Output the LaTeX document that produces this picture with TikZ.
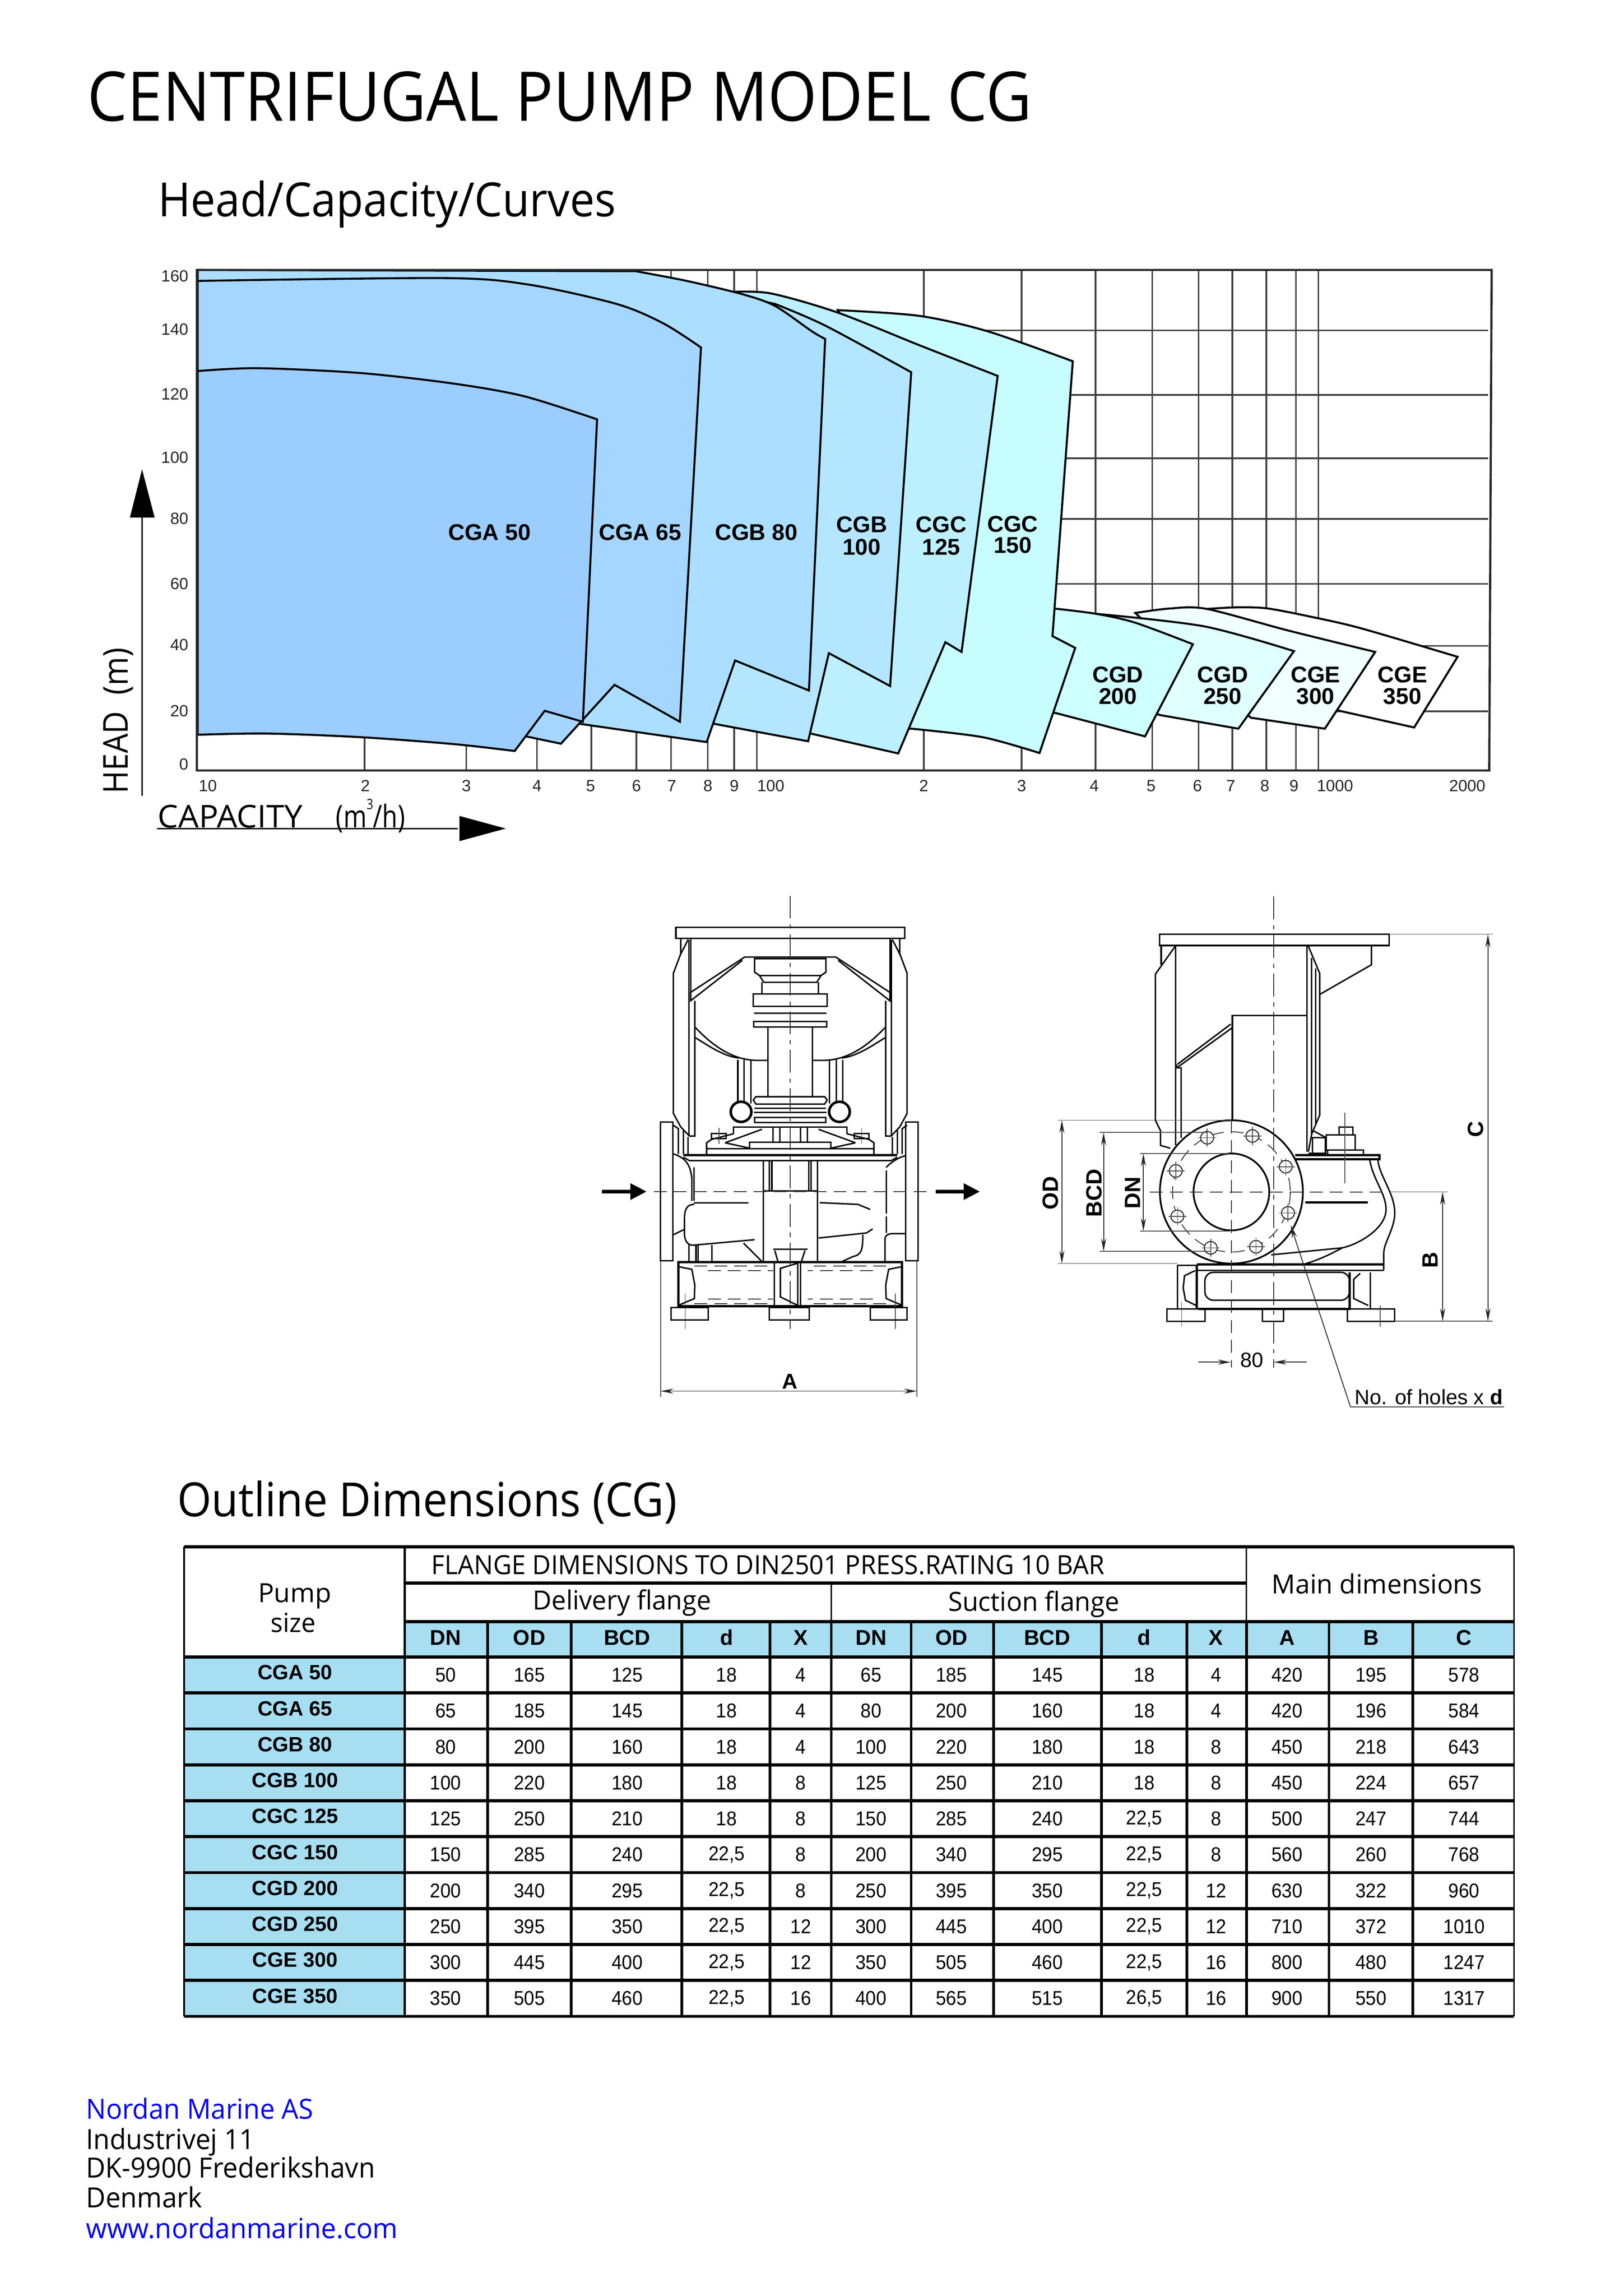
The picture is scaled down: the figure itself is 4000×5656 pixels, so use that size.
\documentclass[tikz,border=0pt]{standalone}
\usepackage{fontspec}
\usepackage{graphicx}
\setmainfont{Liberation Sans}
\newfontfamily\myr{Open Sans}
\newfontfamily\narr[FakeStretch=0.93]{Liberation Sans}
\usetikzlibrary{arrows.meta,shapes.geometric}
\newdimen\pxu \pxu=0.01cm
\newcommand\wfit[2]{\resizebox{#1\pxu}{\height}{#2}}
\definecolor{cA}{RGB}{156,205,255}
\definecolor{cB}{RGB}{165,214,255}
\definecolor{cC}{RGB}{172,222,255}
\definecolor{cD}{RGB}{180,230,255}
\definecolor{cE}{RGB}{188,240,255}
\definecolor{cF}{RGB}{200,253,255}
\definecolor{cG}{RGB}{205,255,255}
\definecolor{cH}{RGB}{224,255,255}
\definecolor{cI}{RGB}{240,255,255}
\definecolor{tblue}{RGB}{167,222,242}
\tikzset{
  x=0.01cm,y=-0.01cm,
  txt/.style={inner sep=0,outer sep=0,anchor=base west,text=black},
  tt/.style={inner sep=0,outer sep=0,text=black},
  grid line/.style={line width=1.1pt,black!75},
  curve/.style={line width=1.4pt,black,line join=miter},
  ln/.style={line width=1pt,black},
  hv/.style={line width=1.6pt,black},
  thn/.style={line width=0.5pt,black!70},
  cl/.style={line width=0.6pt,black!80,dash pattern=on 16pt off 4pt on 3pt off 4pt},
  dsh/.style={line width=0.6pt,black!80,dash pattern=on 9pt off 5pt},
  dimarrow/.style={line width=0.6pt,black!85,{Stealth[length=9pt,width=3.5pt]}-{Stealth[length=9pt,width=3.5pt]}},
  onearrow/.style={line width=0.6pt,black!85,-{Stealth[length=9pt,width=3.5pt]}},
  tickl/.style={tt,font=\fontsize{11.4}{12}\selectfont,text=black!85},
  curvelab/.style={tt,font=\bfseries\fontsize{16}{17}\selectfont},
  tbl h/.style={line width=2.2pt,black},
  tbl v/.style={line width=1.8pt,black},
  tbl t/.style={line width=0.9pt,black},
  num/.style={tt,font=\narr\fontsize{14}{15}\selectfont},
  hdr/.style={tt,font=\bfseries\fontsize{15}{16}\selectfont},
  lab/.style={tt,font=\bfseries\fontsize{14.5}{15}\selectfont},
  dlab/.style={tt,rotate=90,font=\bfseries\fontsize{15.5}{16}\selectfont},
}
\newcommand\halfpump{%
  \draw[ln] (375,135)--(375,180)--(345,238)--(345,655)--(375,695)--(410,722)--(432,722)--(432,320);
  \draw[ln] (405,138)--(372,185);
  \draw[ln] (415,135)--(415,320);
  \draw[ln] (408,140)--(408,722);
  \draw[ln] (820,190)--(635,190)--(415,295)--(415,320)--(625,200);
  \draw[ln] (435,400) .. controls (500,450) and (580,495) .. (680,497) -- (730,497);
  \draw[ln] (435,430) .. controls (490,455) and (550,485) .. (610,490);
  \draw[ln] (820,195)--(675,195)--(675,235)--(695,245)--(820,245);
  \draw[ln] (695,245)--(712,265)--(820,265);
  \draw[ln] (705,265)--(705,298);
  \draw[ln] (820,300)--(670,300)--(670,337)--(820,337);
  \draw[ln] (672,357)--(820,357);
  \draw[ln] (820,382)--(672,382)--(672,398)--(820,398);
  \draw[ln] (730,398)--(730,605);
  \draw[ln] (607,495)--(607,625);
  \draw[ln] (632,495)--(632,620);
  \draw[ln] (660,495)--(660,625);
  \draw[line width=1.8pt,black,fill=white] (620,650) ellipse [x radius=42,y radius=30];
  \draw[ln] (820,605)--(680,605)--(670,615)--(680,627)--(820,627);
  \draw[ln] (820,640)--(675,640);
  \draw[ln] (820,652)--(672,652);
  \draw[ln] (820,667)--(675,667)--(675,682)--(820,682);
  \draw[ln] (820,695)--(590,695)--(590,715);
  \draw[ln] (480,775)--(480,742)--(500,732)--(590,715);
  \draw[ln] (555,742)--(705,702);
  \draw[ln] (555,742)--(655,758);
  \draw[ln] (820,740)--(655,740)--(655,760);
  \draw[ln] (820,760)--(480,760);
  \draw[hv] (820,778)--(385,778);
  \draw[ln] (820,795)--(410,795)--(385,785);
  \draw[ln] (500,715)--(560,715)--(560,730)--(500,730)--cycle;
  \draw[thn] (530,698)--(530,745);
  \draw[ln] (750,695)--(750,738);
  \draw[ln] (778,695)--(778,738);
  \draw[ln] (345,690)--(365,700)--(365,775);
  \draw[ln] (385,705)--(385,775);
  \draw[ln] (405,725)--(405,775);
  \draw[ln] (710,795)--(710,1095);
  \draw[ln] (735,795)--(735,885);
  \draw[ln] (745,795)--(745,885);
  \draw[ln] (710,885)--(820,885);
  \draw[hv] (820,1097)--(365,1097)--(365,1228)--(820,1228);
  \draw[ln] (365,1110)--(420,1118)--(432,1165)--(430,1205)--(365,1225);
  \draw[dsh] (430,1108)--(750,1108);
  \draw[dsh] (485,1122)--(750,1122);
  \draw[dsh] (430,1220)--(750,1220);
  \draw[dsh] (485,1207)--(750,1207);
  \draw[thn] (393,1190)--(393,1295);
}
\begin{document}
\begin{tikzpicture}
\useasboundingbox (0,0) rectangle (4000,5656);
\fill[white] (0,0) rectangle (4000,5656);
\node[txt,font=\myr\fontsize{48}{50}\selectfont] (title) at (216,298) {\wfit{2326}{CENTRIFUGAL PUMP MODEL CG}};
\node[txt,font=\myr\fontsize{33}{36}\selectfont] (head1) at (390,533) {\wfit{1127}{Head/Capacity/Curves}};
\node[txt,font=\myr\fontsize{33}{36}\selectfont] (head2) at (437,3736) {\wfit{1231}{Outline Dimensions (CG)}};
\foreach \gy in {814,973,1129,1278,1438,1591,1752} \draw[grid line] (485,\gy)--(3666,\gy);
\foreach \gx in {898,1149,1323,1457,1568,1653,1744,1809,1865,2276,2517,2699,2839,2953,3036,3120,3193,3248} \draw[grid line] (\gx,665)--(\gx,1898);
\draw[curve,fill=white] plot[smooth,tension=.5] coordinates {(2973,1500)(3051,1496)(3124,1499)(3233,1520)(3354,1548)(3591,1618)} -- (3484,1792) -- (3300,1751) -- (3200,1700) -- cycle;
\draw[curve,fill=cI] plot[smooth,tension=.5] coordinates {(2797,1510)(2882,1499)(2973,1500)(3173,1553)(3388,1606)} -- (3264,1795) -- (3082,1768) -- (3000,1700) -- cycle;
\draw[curve,fill=cH] plot[smooth,tension=.5] coordinates {(2700,1512)(2967,1543)(3188,1604)} -- (3051,1795) -- (2855,1761) -- (2800,1700) -- cycle;
\draw[curve,fill=cG] plot[smooth,tension=.5] coordinates {(2597,1499)(2700,1512)(2797,1534)(2939,1587)} -- (2821,1814) -- (2603,1757) -- (2560,1750) -- (2560,1490) -- cycle;
\draw[curve,fill=cF] plot[smooth,tension=.5] coordinates {(2064,764)(2264,778)(2433,816)(2643,890)} -- (2593,1567) -- (2649,1596) -- (2561,1855) -- plot[smooth,tension=.5] coordinates {(2561,1855)(2421,1816)(2245,1795)} -- (2220,1795) -- (2200,1000) -- cycle;
\draw[curve,fill=cE] plot[smooth,tension=.5] coordinates {(1807,719)(1900,723)(2064,770)(2264,850)(2458,926)} -- (2369,1606) -- (2329,1582) -- (2213,1856) -- (1997,1807) -- (1900,1700) -- cycle;
\draw[curve,fill=cD] plot[smooth,tension=.5] coordinates {(1910,749)(2033,802)(2245,917)} -- (2193,1690) -- (2042,1609) -- (1991,1826) -- (1759,1783) -- (1700,1700) -- (1700,700) -- cycle;
\draw[curve,fill=cC] (487,665) -- plot[smooth,tension=.5] coordinates {(1566,668)(1692,692)(1830,725)(1910,754)(2000,816)(2033,835)} -- (1993,1701) -- (1811,1627) -- (1741,1828) -- (1428,1783) -- (1300,1770) -- (487,1700) -- cycle;
\draw[curve,fill=cB] plot[smooth,tension=.5] coordinates {(487,692)(1095,685)(1302,701)(1520,749)(1635,797)(1727,856)} -- (1675,1778) -- (1514,1687) -- (1382,1832) -- (1296,1814) -- (1233,1807) -- (487,1700) -- cycle;
\draw[curve,fill=cA] plot[smooth,tension=.5] coordinates {(487,914)(636,907)(889,919)(1118,945)(1291,976)(1471,1033)} -- (1436,1778) -- (1342,1751) -- (1268,1850) -- plot[smooth,tension=.5] coordinates {(1268,1850)(1118,1833)(889,1816)(659,1807)(487,1810)} -- cycle;
\draw[line width=1.5pt,black!85] (485,665) -- (3675,665) -- (3669,1898) -- (485,1898) -- cycle;
\node[curvelab] (l1) at (1206,1312) {CGA 50};
\node[curvelab] (l2) at (1577,1312) {CGA 65};
\node[curvelab] (l3) at (1863,1312) {CGB 80};
\node[curvelab,align=center] (l4) at (2123,1320) {CGB\\[-1pt]100};
\node[curvelab,align=center] (l5) at (2319,1320) {CGC\\[-1pt]125};
\node[curvelab,align=center] (l6) at (2495,1317) {CGC\\[-2pt]150};
\node[curvelab,align=center] (l7) at (2754,1689) {CGD\\[-2pt]200};
\node[curvelab,align=center] (l8) at (3012,1689) {CGD\\[-2pt]250};
\node[curvelab,align=center] (l9) at (3241,1689) {CGE\\[-2pt]300};
\node[curvelab,align=center] (l10) at (3455,1689) {CGE\\[-2pt]350};
\foreach \tv/\ty [count=\ti] in {160/680,140/811,120/971,100/1127,80/1277,60/1438,40/1589,20/1751,0/1883}
  \node[tickl,anchor=east] (yt\ti) at (464,\ty) {\tv};
\foreach \tv/\tx [count=\ti] in {10/512,2/900,3/1149,4/1323,5/1455,6/1568,7/1655,8/1744,9/1809,100/1899,2/2276,3/2517,4/2696,5/2836,6/2950,7/3032,8/3116,9/3188,1000/3289,2000/3615}
  \node[tickl] (xt\ti) at (\tx,1936) {\tv};
\coordinate (ay0) at (350,1960); \coordinate (ay1) at (350,1275);
\draw[line width=0.8pt] (ay0)--(ay1);
\fill[black] (350,1156)--(381,1275)--(320,1275)--cycle;
\coordinate (ax0) at (387,2041); \coordinate (ax1) at (1128,2041);
\draw[line width=0.8pt] (ax0)--(ax1);
\fill[black] (1246,2041)--(1132,2010)--(1132,2072)--cycle;
\node[txt,rotate=90,font=\myr\fontsize{24}{26}\selectfont] (headax) at (315,1955) {\wfit{359}{HEAD\ \ (m)}};
\node[txt,font=\myr\fontsize{22}{24}\selectfont] (capax) at (389,2039) {\wfit{356}{CAPACITY}};
\node[txt,font=\myr\fontsize{22}{24}\selectfont] (capun) at (828,2039) {\wfit{170}{(m\raisebox{1.1ex}{\fontsize{10}{10}\selectfont 3}/h)}};

\begin{scope}[shift={(1450,2200)},xscale=.606,yscale=.829]
  \halfpump
  \begin{scope}[shift={(1640,0)},xscale=-1]
    \halfpump
  \end{scope}
  \draw[ln] (355,102) rectangle (1285,135);
  \draw[ln] (293,680) rectangle (343,1092);
  \draw[ln] (1290,680) rectangle (1340,1092);
  \draw[ln] (345,775) .. controls (385,785) and (415,800) .. (420,850) -- (420,915);
  \draw[ln] (428,815)--(428,915);
  \draw[ln] (428,920)--(650,920);
  \draw[ln] (430,925) .. controls (395,925) and (390,945) .. (390,970) -- (390,1015) .. controls (392,1040) and (410,1048) .. (430,1046) -- (675,1030);
  \draw[ln] (345,1015)--(388,1000);
  \draw[ln] (630,1040)--(705,1095);
  \draw[ln] (408,1045)--(408,1095);
  \draw[ln] (437,1047)--(437,1095);
  \draw[ln] (445,1047)--(445,1095);
  \draw[ln] (502,1045)--(502,1095);
  \draw[ln] (1290,780) .. controls (1260,785) and (1230,800) .. (1210,815);
  \draw[ln,dash pattern=on 30pt off 2pt] (1210,825)--(1210,1010);
  \draw[ln] (940,920)--(1095,925)--(1145,940);
  \draw[ln] (935,1025)--(1130,1010)--(1155,998);
  \draw[ln] (1115,1015) .. controls (1115,1060) and (1110,1075) .. (1075,1080) -- (1030,1095);
  \draw[ln] (1205,1095)--(1205,1030) .. controls (1205,1015) and (1220,1012) .. (1240,1012) -- (1290,1012);
  \draw[ln] (755,1095)--(755,1228);
  \draw[ln] (850,1100)--(780,1115)--(780,1200)--(850,1225);
  \draw[ln] (850,1100)--(850,1228);
  \draw[ln] (862,1100)--(862,1228);
  \draw[ln] (750,1058)--(890,1058);
  \draw[ln] (757,1062)--(770,1095);
  \draw[ln] (880,1062)--(865,1095);
  \draw[ln] (335,1232) rectangle (487,1268);
  \draw[ln] (735,1232) rectangle (898,1268);
  \draw[ln] (1145,1232) rectangle (1295,1268);
  \draw[cl] (820,8)--(820,1295);
  \draw[dsh] (265,887)--(1390,887);
  \draw[line width=2.6pt] (55,887)--(175,887);
  \fill[black] (235,887)--(170,862)--(170,912)--cycle;
  \draw[line width=2.6pt] (1412,887)--(1530,887);
  \fill[black] (1590,887)--(1525,862)--(1525,912)--cycle;
  \draw[thn] (293,1095)--(293,1497);
  \draw[thn] (1335,1095)--(1335,1497);
  \coordinate (adl) at (293,1480); \coordinate (adr) at (1335,1480);
  \draw[dimarrow] (adl)--(adr);
  \node[tt,font=\bfseries\fontsize{15}{16}\selectfont] (dimA) at (818,1451) {A};
\end{scope}

\begin{scope}[shift={(2550,2200)},xscale=.797,yscale=.861]
  \draw[ln] (385,118) rectangle (1095,150);
  \draw[ln] (390,150)--(390,205);
  \draw[ln] (435,150)--(372,232)--(372,650)--(388,680)--(388,722)--(418,730);
  \draw[ln] (435,150)--(435,722);
  \draw[ln] (440,490)--(605,375);
  \draw[ln] (438,500)--(610,385);
  \draw[ln] (438,490)--(438,500)--(452,500)--(452,700);
  \draw[ln] (840,350)--(610,350)--(610,650);
  \draw[ln] (840,150)--(840,740);
  \draw[ln] (845,152)--(880,230)--(880,635)--(855,690)--(845,740);
  \draw[ln] (855,185)--(855,690);
  \draw[ln] (868,215)--(868,660);
  \draw[ln] (880,290)--(1040,205)--(1040,150);
  \draw[hv] (805,750)--(1065,750)--(1065,762)--(800,762);
  \draw[ln] (1035,765) .. controls (1045,820) and (1085,860) .. (1085,905) .. controls (1085,960) and (1000,1005) .. (950,1015) -- (730,1035);
  \draw[ln] (1060,765) .. controls (1065,810) and (1112,860) .. (1112,915) .. controls (1112,960) and (1078,1000) .. (1078,1030) -- (1078,1078);
  \draw[ln] (950,1015) .. controls (900,1040) and (860,1055) .. (830,1062);
  \draw[hv] (835,885)--(1028,885);
  \draw[ln] (940,670) rectangle (982,692);
  \draw[ln] (900,692) rectangle (990,735);
  \draw[ln] (905,735) rectangle (1015,748);
  \draw[ln] (860,680)--(900,700);
  \draw[ln] (845,745)--(900,745);
  \draw[ln] (858,700) rectangle (898,745);
  \draw[thn] (958,628)--(958,830);
  \draw[hv] (500,1063)--(1078,1063);
  \draw[ln] (500,1080)--(1078,1080);
  \draw[ln] (440,1065)--(500,1065);
  \draw[ln] (440,1065)--(440,1190);
  \draw[hv] (500,1065)--(500,1190);
  \draw[ln] (495,1080)--(462,1095)--(458,1130)--(465,1165)--(498,1180);
  \draw[ln,rounded corners=6pt] (525,1085) rectangle (972,1165);
  \draw[hv] (505,1190)--(975,1190);
  \draw[hv] (972,1085)--(972,1190);
  \draw[ln] (1037,1085)--(1037,1190);
  \draw[ln] (1005,1088)--(985,1105)--(985,1160)--(1030,1180);
  \draw[ln] (408,1190) rectangle (525,1225);
  \draw[ln] (703,1190) rectangle (768,1225);
  \draw[ln] (965,1190) rectangle (1112,1225);
  \draw[line width=1.2pt,black,fill=white] (607,855) ellipse [x radius=221,y radius=205];
  \draw[line width=1.2pt,black,fill=white] (607,855) ellipse [x radius=117,y radius=110];
  \draw[dsh] (607,855) ellipse [x radius=182,y radius=172];
  \foreach \hx/\hy in {532/700,672/695,775/783,782/915,683/1012,543/1015,440/925,435/795}{
    \draw[line width=0.6pt,black,fill=white] (\hx,\hy) ellipse [x radius=20,y radius=18];
    \draw[thn] ({\hx-28},\hy)--({\hx+28},\hy);
    \draw[thn] (\hx,{\hy-26})--(\hx,{\hy+26});
  }
  \draw[cl] (738,10)--(738,1358);
  \draw[dsh] (607,650)--(607,1358);
  \draw[dsh] (355,855)--(1100,855);
  \draw[thn] (453,1170)--(453,1240);
  \draw[thn] (1067,1180)--(1067,1240);
  \draw[thn] (70,650)--(607,650);
  \draw[thn] (70,1060)--(440,1060);
  \draw[dimarrow] (83,650)--(83,1060);
  \node[dlab] (dOD) at (48,858) {OD};
  \draw[thn] (200,685)--(530,685);
  \draw[thn] (200,1025)--(540,1025);
  \draw[dimarrow] (212,685)--(212,1025);
  \node[dlab] (dBCD) at (182,858) {BCD};
  \draw[thn] (325,745)--(600,745);
  \draw[thn] (325,967)--(600,967);
  \draw[dimarrow] (335,745)--(335,967);
  \node[dlab] (dDN) at (302,858) {DN};
  \draw[thn] (1095,118)--(1415,118);
  \draw[thn] (1112,1225)--(1415,1225);
  \draw[dimarrow] (1400,118)--(1400,1225);
  \node[dlab] (dC) at (1362,675) {C};
  \draw[thn] (1100,855)--(1275,855);
  \draw[dimarrow] (1260,855)--(1260,1225);
  \node[dlab] (dB) at (1222,1050) {B};
  \draw[onearrow] (505,1342)--(605,1342);
  \draw[onearrow] (840,1342)--(738,1342);
  \node[tt,font=\fontsize{14.6}{16}\selectfont] (d80) at (670,1336) {80};
  \coordinate (leadA) at (790,950); \coordinate (leadB) at (975,1470); \coordinate (leadC) at (1450,1470);
  \draw[line width=0.6pt,black!85,{Stealth[length=9pt,width=3.5pt]}-] (leadA)--(leadB)--(leadC);
  \node[tt,font=\fontsize{14.6}{16}\selectfont] (holes) at (1217,1442) {No. of holes x \textbf{d}};
\end{scope}

\fill[tblue] (997,3995) rectangle (3730,4082);
\fill[tblue] (454,4082) rectangle (997,4967);
\draw[tbl h] (454,3810)--(3730,3810);
\draw[tbl h] (997,3900)--(3071,3900);
\draw[tbl h] (997,3995)--(3730,3995);
\foreach \ri in {0,...,10} \draw[tbl h] (454,{4082+88.5*\ri})--(3730,{4082+88.5*\ri});
\draw[line width=1.2pt] (454,3810)--(454,4967);
\draw[line width=1.2pt] (3730,3810)--(3730,4967);
\draw[tbl v] (997,3810)--(997,4967);
\draw[tbl t] (2048,3900)--(2048,3995);
\draw[tbl t] (3071,3810)--(3071,3995);
\foreach \cx in {1201,1407,1680,1897,2048,2245,2448,2714,2924,3071,3274,3481} \draw[tbl v] (\cx,3995)--(\cx,4967);
\node[txt,font=\myr\fontsize{18.5}{20}\selectfont] (th1) at (1063,3878) {\wfit{1658}{FLANGE DIMENSIONS TO DIN2501 PRESS.RATING 10 BAR}};
\node[txt,font=\myr\fontsize{18.5}{20}\selectfont] (th2) at (1313,3965) {\wfit{439}{Delivery flange}};
\node[txt,font=\myr\fontsize{18.5}{20}\selectfont] (th3) at (2336,3969) {\wfit{422}{Suction flange}};
\node[txt,font=\myr\fontsize{18.5}{20}\selectfont] (th4) at (3133,3926) {\wfit{518}{Main dimensions}};
\node[txt,font=\myr\fontsize{18.5}{20}\selectfont] (th5) at (636,3947) {\wfit{180}{Pump}};
\node[txt,font=\myr\fontsize{18.5}{20}\selectfont] (th6) at (667,4021) {\wfit{111}{size}};
\foreach \hv/\hx [count=\hi] in {DN/1098,OD/1304,BCD/1545,d/1790,X/1973,DN/2146,OD/2344,BCD/2580,d/2819,X/2996,A/3171,B/3378,C/3607}
  \node[hdr] (hd\hi) at (\hx,4034) {\hv};
\foreach \lbl/\vals [count=\r] in {
  CGA 50/{50,165,125,18,4,65,185,145,18,4,420,195,578},
  CGA 65/{65,185,145,18,4,80,200,160,18,4,420,196,584},
  CGB 80/{80,200,160,18,4,100,220,180,18,8,450,218,643},
  CGB 100/{100,220,180,18,8,125,250,210,18,8,450,224,657},
  CGC 125/{125,250,210,18,8,150,285,240,{22,5},8,500,247,744},
  CGC 150/{150,285,240,{22,5},8,200,340,295,{22,5},8,560,260,768},
  CGD 200/{200,340,295,{22,5},8,250,395,350,{22,5},12,630,322,960},
  CGD 250/{250,395,350,{22,5},12,300,445,400,{22,5},12,710,372,1010},
  CGE 300/{300,445,400,{22,5},12,350,505,460,{22,5},16,800,480,1247},
  CGE 350/{350,505,460,{22,5},16,400,565,515,{26,5},16,900,550,1317}}{
  \pgfmathsetmacro\yy{4082+88.5*(\r-.5)}
  \pgfmathsetmacro\yl{\yy-6}
  \node[lab] (lab\r) at (727,\yl) {\lbl};
  \foreach \v [count=\c] in \vals {
    \pgfmathsetmacro\xx{{1098,1304,1545,1790,1973,2146,2344,2580,2819,2996,3171,3378,3607}[\c-1]}
    \node[num] (n\r-\c) at (\xx,\yy) {\v};
  }
}
\node[txt,text=blue,font=\myr\fontsize{19.5}{20}\selectfont] (f1) at (212,5220) {\wfit{560}{Nordan Marine AS}};
\node[txt,font=\myr\fontsize{19.5}{20}\selectfont] (f2) at (212,5295) {\wfit{416}{Industrivej 11}};
\node[txt,font=\myr\fontsize{19.5}{20}\selectfont] (f3) at (212,5365) {\wfit{712}{DK-9900 Frederikshavn}};
\node[txt,font=\myr\fontsize{19.5}{20}\selectfont] (f4) at (212,5438) {\wfit{286}{Denmark}};
\node[txt,text=blue,font=\myr\fontsize{19.5}{20}\selectfont] (f5) at (212,5514) {\wfit{768}{www.nordanmarine.com}};
\end{tikzpicture}
\end{document}
